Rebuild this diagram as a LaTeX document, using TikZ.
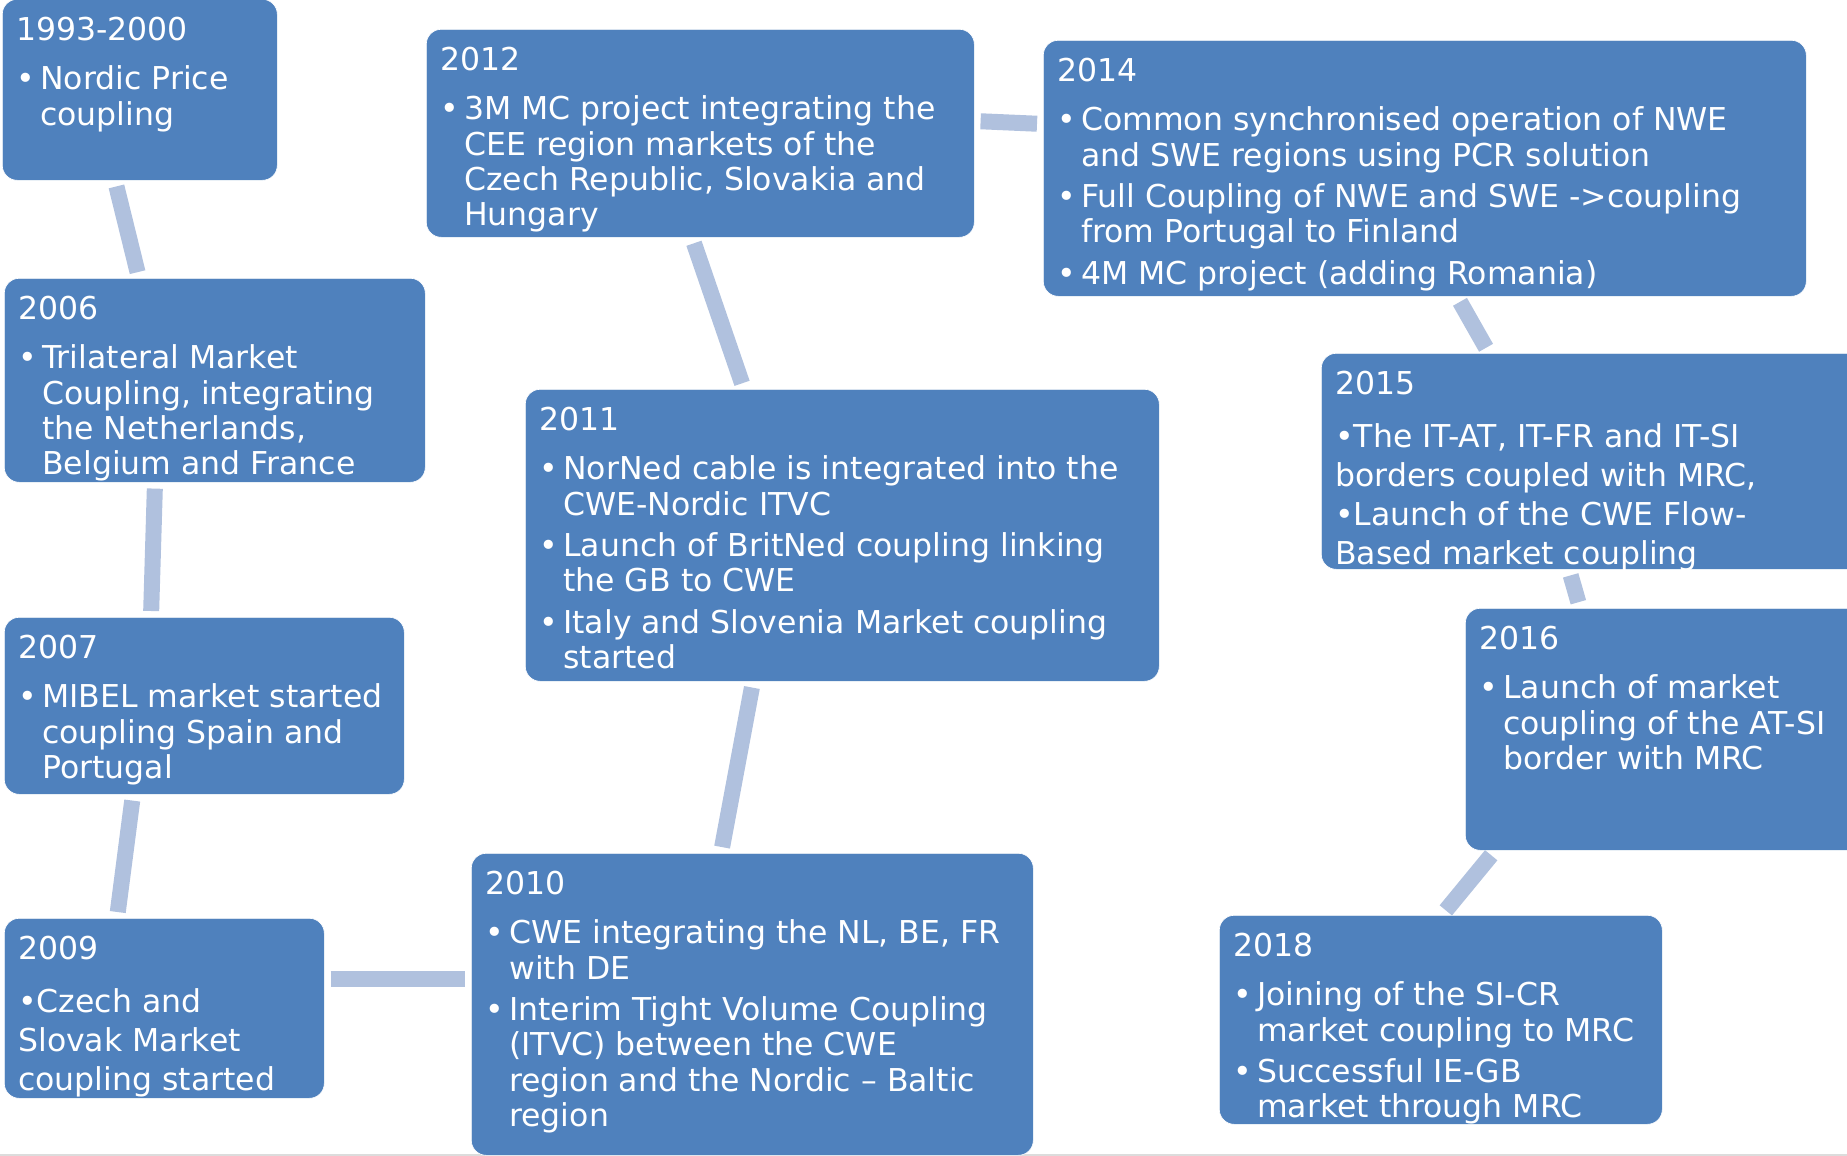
\documentclass[tikz,border=0pt]{standalone}
\usepackage{fontspec}
\setmainfont{DejaVu Sans}
\usepackage{xcolor}
\usepackage{tikz}
\usetikzlibrary{calc}
\definecolor{mcblue}{HTML}{4F81BD}
\definecolor{mclink}{HTML}{B0C1DE}
\definecolor{mcgray}{HTML}{DCDCDC}
\newcommand{\boxfont}{\fontsize{31.5}{35.3}\selectfont}
% box contents: width, height, text (lines are broken by hand)
\newcommand{\boxbody}[3]{\makebox[#1][l]{\begin{minipage}[t][#2][t]{50cm}\parskip=6pt #3\end{minipage}}}
\newcommand{\yr}[1]{\strut#1\par\vspace{8pt}}
\newcommand{\bul}[1]{\hangindent=24pt\hangafter=1\noindent\makebox[24pt][l]{\textbullet}#1\par}
\tikzset{
    % Year box
    yearbox/.style={
        rectangle,
        rounded corners=15pt,
        draw=white,
        line width=0.6pt,
        fill=mcblue,
        text=white,
        font=\boxfont,
        anchor=north west,
        inner xsep=14pt,
        inner ysep=16.5pt
    },
    % Link bar between years
    linkbar/.style={
        draw=mclink,
        line width=16pt,
        shorten <=6pt,
        shorten >=6pt
    }
}
\begin{document}
\begin{tikzpicture}[x=1pt, y=-1pt]

    \useasboundingbox (0,0) rectangle (1847,1156);
    \draw[mcgray, line width=2pt] (0,1155) -- (1847,1155);

    % Left column
    \node[yearbox] (b1993) at (2,-1) {\boxbody{247pt}{148pt}{\yr{1993-2000}
        \bul{Nordic Price\\coupling}}};
    \node[yearbox] (b2006) at (4,278) {\boxbody{393pt}{171pt}{\yr{2006}
        \bul{Trilateral Market\\Coupling, integrating\\the Netherlands,\\Belgium and France}}};
    \node[yearbox] (b2007) at (4,617) {\boxbody{372pt}{144pt}{\yr{2007}
        \bul{MIBEL market started\\coupling Spain and\\Portugal}}};
    \node[yearbox] (b2009) at (4,918) {\boxbody{292pt}{147pt}{\yr{2009}\baselineskip=39pt
        \noindent\textbullet Czech and\\Slovak Market\\coupling started\par}};

    % Middle column
    \node[yearbox] (b2010) at (471,853) {\boxbody{534pt}{269pt}{\yr{2010}
        \bul{CWE integrating the NL, BE, FR\\with DE}
        \bul{Interim Tight Volume Coupling\\(ITVC) between the CWE\\region and the Nordic – Baltic\\region}}};
    \node[yearbox] (b2011) at (525,389) {\boxbody{606pt}{259pt}{\yr{2011}
        \bul{NorNed cable is integrated into the\\CWE-Nordic ITVC}
        \bul{Launch of BritNed coupling linking\\the GB to CWE}
        \bul{Italy and Slovenia Market coupling\\started}}};
    \node[yearbox] (b2012) at (426,29) {\boxbody{520pt}{175pt}{\yr{2012}
        \bul{3M MC project integrating the\\CEE region markets of the\\Czech Republic, Slovakia and\\Hungary}}};

    % Right column
    \node[yearbox] (b2014) at (1043,40) {\boxbody{735pt}{223pt}{\yr{2014}
        \bul{Common synchronised operation of NWE\\and SWE regions using PCR solution}
        \bul{Full Coupling of NWE and SWE ->coupling\\from Portugal to Finland}
        \bul{4M MC project (adding Romania)}}};
    \node[yearbox] (b2015) at (1321,353) {\boxbody{521pt}{183pt}{\yr{2015}\baselineskip=39pt
        \noindent\textbullet The IT-AT, IT-FR and IT-SI\\borders coupled with MRC,\\\textbullet Launch of the CWE Flow-\\Based market coupling\par}};
    \node[yearbox] (b2016) at (1465,608) {\boxbody{377pt}{209pt}{\yr{2016}
        \bul{Launch of market\\coupling of the AT-SI\\border with MRC}}};
    \node[yearbox] (b2018) at (1219,915) {\boxbody{415pt}{176pt}{\yr{2018}
        \bul{Joining of the SI-CR\\market coupling to MRC}
        \bul{Successful IE-GB\\market through MRC}}};

    % Links
    \draw[linkbar] ([xshift=113pt]b1993.south west) -- ([xshift=135pt]b2006.north west);
    \draw[linkbar] ([xshift=151pt]b2006.south west) -- ([xshift=147pt]b2007.north west);
    \draw[linkbar] ([xshift=129pt]b2007.south west) -- ([xshift=113pt]b2009.north west);
    \draw[linkbar] ([yshift=-61pt]b2009.north east) -- ([yshift=-126pt]b2010.north west);
    \draw[linkbar] ([xshift=250pt]b2010.north west) -- ([xshift=228pt]b2011.south west);
    \draw[linkbar] ([xshift=219pt]b2011.north west) -- ([xshift=266pt]b2012.south west);
    \draw[linkbar] ([yshift=-92pt]b2012.north east) -- ([yshift=-84pt]b2014.north west);
    \draw[linkbar] ([xshift=414pt]b2014.south west) -- ([xshift=168pt]b2015.north west);
    \draw[linkbar] ([xshift=248pt]b2015.south west) -- ([xshift=115pt]b2016.north west);
    \draw[linkbar] ([xshift=30pt]b2016.south west) -- ([xshift=223pt]b2018.north west);

\end{tikzpicture}
\end{document}
